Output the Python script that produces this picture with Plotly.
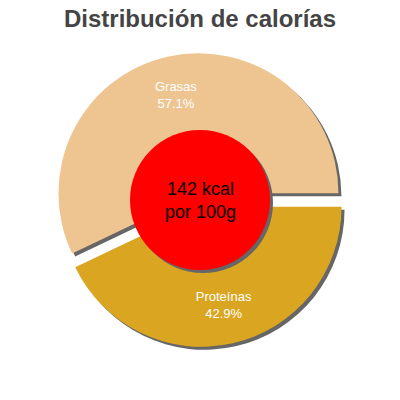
import plotly.graph_objects as go

# Calorie split per 100 g (order chosen so Grasas sits on top, as in the original)
labels = ["Proteínas", "Grasas"]
values = [42.9, 57.1]
colors = ["#DAA520", "#EEC591"]
kcal_text = "142 kcal<br>por 100g"
title_text = "Distribución de calorías"

W = 400
pull = 0.05
hole = 0.44
shadow = 3  # px offset of the drop shadow

# pie domain in pixels (centre 200,200)
x0, x1 = 53, 347
y0, y1 = 53, 347


def px_dom(a, b, flip=False):
    if flip:
        return [1 - b / W, 1 - a / W]
    return [a / W, b / W]


fig = go.Figure()

# shadow pie
fig.add_trace(go.Pie(
    labels=labels, values=values, sort=False,
    direction="counterclockwise", rotation=90,
    pull=[pull] * len(values), hole=hole,
    marker=dict(colors=["#666666"] * len(values), line=dict(width=0)),
    textinfo="none", hoverinfo="skip", showlegend=False,
    domain=dict(x=px_dom(x0 + shadow, x1 + shadow),
                y=px_dom(y0 + shadow, y1 + shadow, flip=True)),
))

# main pie
fig.add_trace(go.Pie(
    labels=labels, values=values, sort=False,
    direction="counterclockwise", rotation=90,
    pull=[pull] * len(values), hole=hole,
    marker=dict(colors=colors, line=dict(width=0)),
    texttemplate="%{label}<br>%{percent:.1%}",
    textposition="inside", insidetextorientation="horizontal",
    textfont=dict(family="Liberation Sans, Arial", size=13, color="white"),
    showlegend=False,
    domain=dict(x=px_dom(x0, x1), y=px_dom(y0, y1, flip=True)),
))

# centre disc with shadow
r = 70
fig.add_shape(type="circle", xref="paper", yref="paper",
              x0=(200 - r + shadow) / W, x1=(200 + r + shadow) / W,
              y0=1 - (200 + r + shadow) / W, y1=1 - (200 - r + shadow) / W,
              fillcolor="#666666", line=dict(width=0))
fig.add_shape(type="circle", xref="paper", yref="paper",
              x0=(200 - r) / W, x1=(200 + r) / W,
              y0=1 - (200 + r) / W, y1=1 - (200 - r) / W,
              fillcolor="#FF0000", line=dict(width=0))

fig.add_annotation(text=kcal_text, x=0.5, y=0.5, xref="paper", yref="paper",
                   showarrow=False,
                   font=dict(family="Liberation Sans, Arial", size=18, color="black"))

fig.update_layout(
    width=400, height=400,
    margin=dict(l=0, r=0, t=0, b=0),
    paper_bgcolor="white",
    plot_bgcolor="white",
    title=dict(text="<b>" + title_text + "</b>", x=0.5, xanchor="center",
               y=1 - 10 / W, yanchor="top", yref="container",
               font=dict(family="Liberation Sans, Arial", size=24, color="#444444")),
)

# drop the default 8px body margin so the chart sits at the window's corner
fig.write_html("out.html", config={"displayModeBar": False},
               post_script="document.body.style.margin='0';")
